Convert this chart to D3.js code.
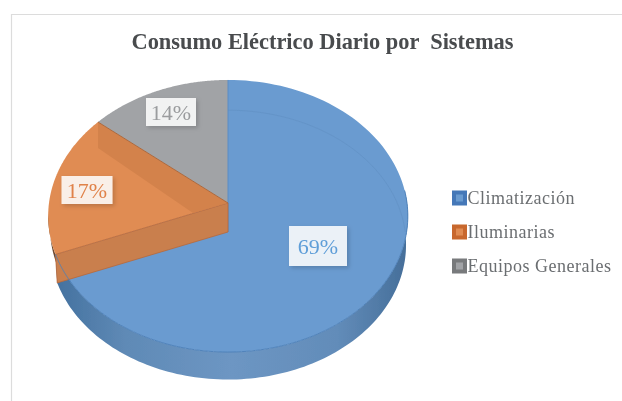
<!DOCTYPE html>
<html lang="es"><head><meta charset="utf-8">
<script src="https://cdn.jsdelivr.net/npm/d3@7"></script>
<style>html,body{margin:0;padding:0;background:#fff}svg{display:block}</style></head>
<body><div id="chart"></div>
<script>
const categories = ["Climatización", "Iluminarias", "Equipos Generales"];
const seriesValues = [69, 17, 14];
const faceColors = ["#6a9bd0", "#e08c53", "#a1a3a6"];
const labelColors = ["#5f9ed8", "#e0824a", "#9a9c9e"];
const swatchColors = ["#4478b8", "#c8682e", "#787a7c"];
const titleText = "Consumo Eléctrico Diario por  Sistemas";

const W = 622, H = 401;
const svg = d3.select("#chart").append("svg").attr("width", W).attr("height", H);
const defs = svg.append("defs");
const blur = defs.append("filter").attr("id", "soft").attr("x", "-5%").attr("y", "-5%").attr("width", "110%").attr("height", "110%");
blur.append("feGaussianBlur").attr("stdDeviation", 0.5);
const shadow = defs.append("filter").attr("id", "shadow").attr("x", "-20%").attr("y", "-20%").attr("width", "150%").attr("height", "150%");
shadow.append("feDropShadow").attr("dx", 2).attr("dy", 2).attr("stdDeviation", 2).attr("flood-color", "#000").attr("flood-opacity", 0.2);
const wallGrad = defs.append("linearGradient").attr("id", "wall").attr("x1", 0).attr("x2", 1).attr("y1", 0).attr("y2", 0);
[[0, "#44719f"], [0.2, "#5f8ab6"], [0.5, "#6d96c3"], [0.8, "#628cb9"], [1, "#456e99"]].forEach(([o, c]) =>
  wallGrad.append("stop").attr("offset", o).attr("stop-color", c));
const root = svg.append("g").attr("filter", "url(#soft)");

root.append("path").attr("d", "M622,14.5H11.5V401").attr("fill", "none").attr("stroke", "#dcdcdc").attr("stroke-width", 1.2);

root.append("text").attr("x", 322.5).attr("y", 49).attr("text-anchor", "middle")
  .attr("font-family", "Liberation Serif").attr("font-weight", "bold").attr("font-size", 22.4)
  .attr("fill", "#484b4e").style("white-space", "pre").text(titleText);

// Perspective projection of the pie disc
const cx = 228, cy = 203, Rx = 179, Ry = 134.8, k = 0.0956, depth = 29;
function project(a, r = 1, d = 0) {
  const u = r * Math.sin(a), v = -r * Math.cos(a), w = 1 - k * v;
  const s = d ? 0.99 : 1;
  return [cx + s * Rx * u / w, cy + d + s * Ry * v / w];
}
const arcs = d3.pie().sort(null)(seriesValues);
const line = d3.line();
const arcPts = (a0, a1, r = 1, d = 0) => d3.range(0, 121).map(i => project(a0 + (a1 - a0) * i / 120, r, d));

const blueEnd = arcs[0].endAngle;
// Side wall of the front rim
root.append("path")
  .attr("d", line([...arcPts(Math.PI * 0.47, blueEnd), ...arcPts(blueEnd, Math.PI * 0.47, 1, depth)]) + "Z")
  .attr("fill", "url(#wall)");
// dark sliver under the left of the orange slice
root.append("path")
  .attr("d", line([...arcPts(blueEnd, blueEnd + 0.3), ...arcPts(blueEnd + 0.3, blueEnd, 1, depth * 0.4)]) + "Z")
  .attr("fill", "#6e4a30");

// Top faces
arcs.forEach((a, i) => {
  root.append("path")
    .attr("d", line([project(0, 0), ...arcPts(a.startAngle, a.endAngle)]) + "Z")
    .attr("fill", faceColors[i]);
});

// Faint inner rim of the back of the blue slice
root.append("path").attr("d", line(arcPts(0, Math.PI * 0.5, 1, depth)))
  .attr("fill", "none").attr("stroke", "#6494c8").attr("stroke-width", 1);
// Rim line along the front of the blue face
root.append("path").attr("d", line(arcPts(Math.PI * 0.47, blueEnd)))
  .attr("fill", "none").attr("stroke", "#4f82ba").attr("stroke-width", 1);
// Blue edge at twelve o'clock
root.append("path").attr("d", line([project(0), project(0, 0), project(0, 0, depth)]))
  .attr("fill", "none").attr("stroke", "#5a8cc4").attr("stroke-width", 1);

// Orange cut wall between the orange and blue slices
const rimA = project(blueEnd), rimB = project(blueEnd, 1, depth);
root.append("path")
  .attr("d", line([project(0, 0), rimA, rimB, project(0, 0, depth)]) + "Z")
  .attr("fill", "#c97f4e").attr("stroke", "#b8683a").attr("stroke-width", 0.8);
// Blue rim over the wall, re-cut along the disc edge
root.append("path").attr("d", line(arcPts(blueEnd - 0.22, blueEnd)))
  .attr("fill", "none").attr("stroke", "#4f82ba").attr("stroke-width", 1);

// Darker orange band along the grey boundary
const orangeEnd = arcs[1].endAngle;
root.append("path")
  .attr("d", line([project(0, 0), project(orangeEnd),
    [project(orangeEnd)[0], project(orangeEnd)[1] + 26],
    [cx - 35, cy + 10]]) + "Z")
  .attr("fill", "#d07f4a").attr("opacity", 0.8);
root.append("path").attr("d", line([project(orangeEnd), project(0, 0)]))
  .attr("fill", "none").attr("stroke", "#a9693f").attr("stroke-width", 1);

// Data labels
const labelBoxes = [[318, 246, 58, 40], [87, 190, 51, 28], [171, 112, 50, 28]];
arcs.forEach((a, i) => {
  const [x, y, w, h] = labelBoxes[i];
  root.append("rect").attr("x", x - w / 2).attr("y", y - h / 2).attr("width", w).attr("height", h)
    .attr("fill", "#fff").attr("fill-opacity", 0.86).attr("filter", "url(#shadow)");
  root.append("text").attr("x", x).attr("y", y + 7.5).attr("text-anchor", "middle")
    .attr("font-family", "Liberation Serif").attr("font-size", 22).attr("fill", labelColors[i])
    .text(a.data + "%");
});

// Legend
const legendY = d3.scalePoint().domain(categories).range([198, 266]);
const legend = root.selectAll("g.legend").data(categories).join("g").attr("class", "legend")
  .attr("transform", d => `translate(0,${legendY(d)})`);
legend.append("rect").attr("x", 452).attr("y", -7.5).attr("width", 15).attr("height", 15).attr("fill", (d, i) => swatchColors[i]);
legend.append("rect").attr("x", 456).attr("y", -3.5).attr("width", 7).attr("height", 7).attr("fill", (d, i) => faceColors[i]);
legend.append("text").attr("x", 467.5).attr("y", 6).attr("font-family", "Liberation Serif").attr("font-size", 18)
  .attr("letter-spacing", 0.5).attr("fill", "#6b6e71").text(d => d);
</script></body></html>
